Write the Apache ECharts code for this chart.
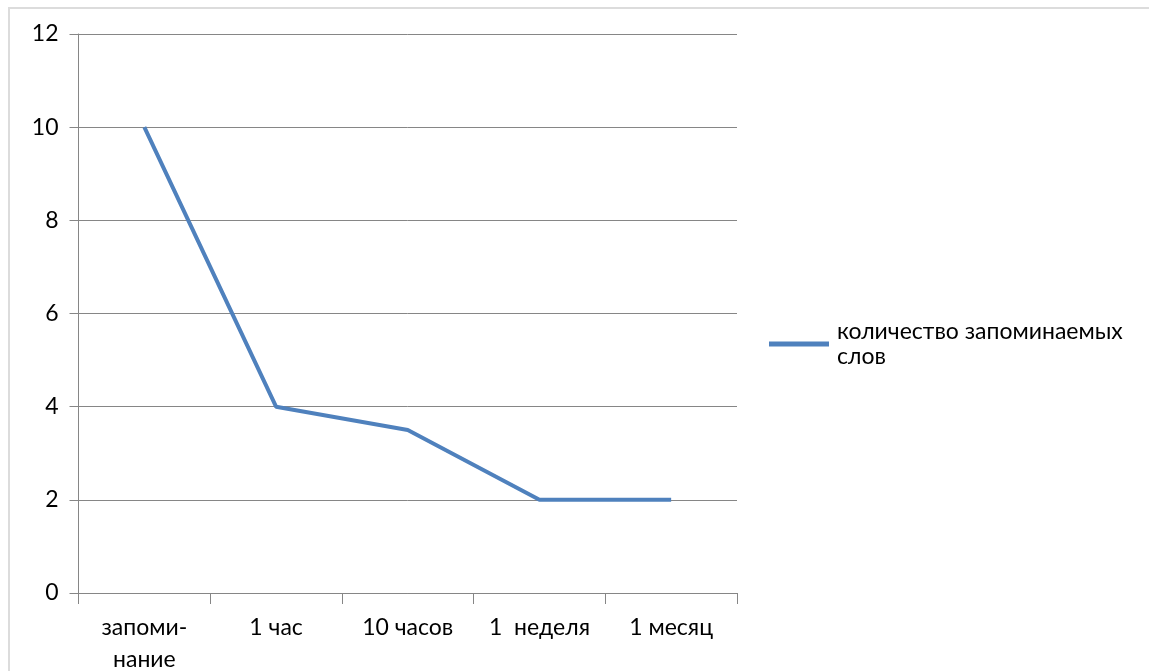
<!DOCTYPE html>
<html>
<head>
<meta charset="utf-8">
<script src="https://cdn.jsdelivr.net/npm/echarts@6/dist/echarts.min.js"></script>
<style>
html,body{margin:0;padding:0;background:#fff;}
#frame{position:absolute;left:8px;top:7px;width:1141px;height:664px;border-top:2px solid #dcdcdc;border-left:2px solid #dcdcdc;box-sizing:border-box;}
#chart{position:absolute;left:0;top:0;width:1149px;height:671px;}
</style>
</head>
<body>
<div id="frame"></div>
<div id="chart"></div>
<script>
const categories = ['запоми-\nнание', '1 час', '10 часов', '1  неделя', '1 месяц'];
const seriesName = 'количество запоминаемых слов';
const values = [10, 4, 3.5, 2, 2];
const yTicks = {min: 0, max: 12, interval: 2};

const chart = echarts.init(document.getElementById('chart'), null, {renderer: 'canvas'});
const font = 'Lato, "Open Sans", sans-serif';
const fs = 23;
chart.setOption({
  animation: false,
  backgroundColor: 'transparent',
  grid: {left: 78.5, right: 1149 - 737, top: 34, bottom: 671 - 593, containLabel: false, outerBoundsMode: 'none'},
  legend: {
    show: true,
    left: 769,
    top: 319,
    padding: 0,
    orient: 'vertical',
    icon: 'rect',
    itemWidth: 60,
    itemHeight: 5,
    itemGap: 8,
    formatter: function (n) { const i = n.lastIndexOf(' '); return n.slice(0, i) + '\n' + n.slice(i + 1); },
    textStyle: {fontFamily: font, fontSize: fs, color: '#000', lineHeight: 25, padding: [0, 0, 0, 3]},
    data: [seriesName]
  },
  xAxis: {
    type: 'category',
    data: categories,
    boundaryGap: true,
    axisLine: {show: true, lineStyle: {color: '#868686', width: 1}},
    axisTick: {show: true, length: 11, lineStyle: {color: '#868686', width: 1}},
    axisLabel: {fontFamily: font, fontSize: fs, color: '#000', margin: 19, lineHeight: 32, interval: 0}
  },
  yAxis: {
    type: 'value',
    min: yTicks.min, max: yTicks.max, interval: yTicks.interval,
    axisLine: {show: true, lineStyle: {color: '#868686', width: 1}},
    axisTick: {show: true, length: 9, lineStyle: {color: '#868686', width: 1}},
    splitLine: {show: true, lineStyle: {color: '#868686', width: 1}},
    axisLabel: {fontFamily: font, fontSize: fs, color: '#000', margin: 20}
  },
  series: [{
    name: seriesName,
    type: 'line',
    data: values,
    showSymbol: false,
    symbol: 'none',
    lineStyle: {color: '#4f81bd', width: 4},
    itemStyle: {color: '#4f81bd'}
  }]
});
</script>
</body>
</html>
